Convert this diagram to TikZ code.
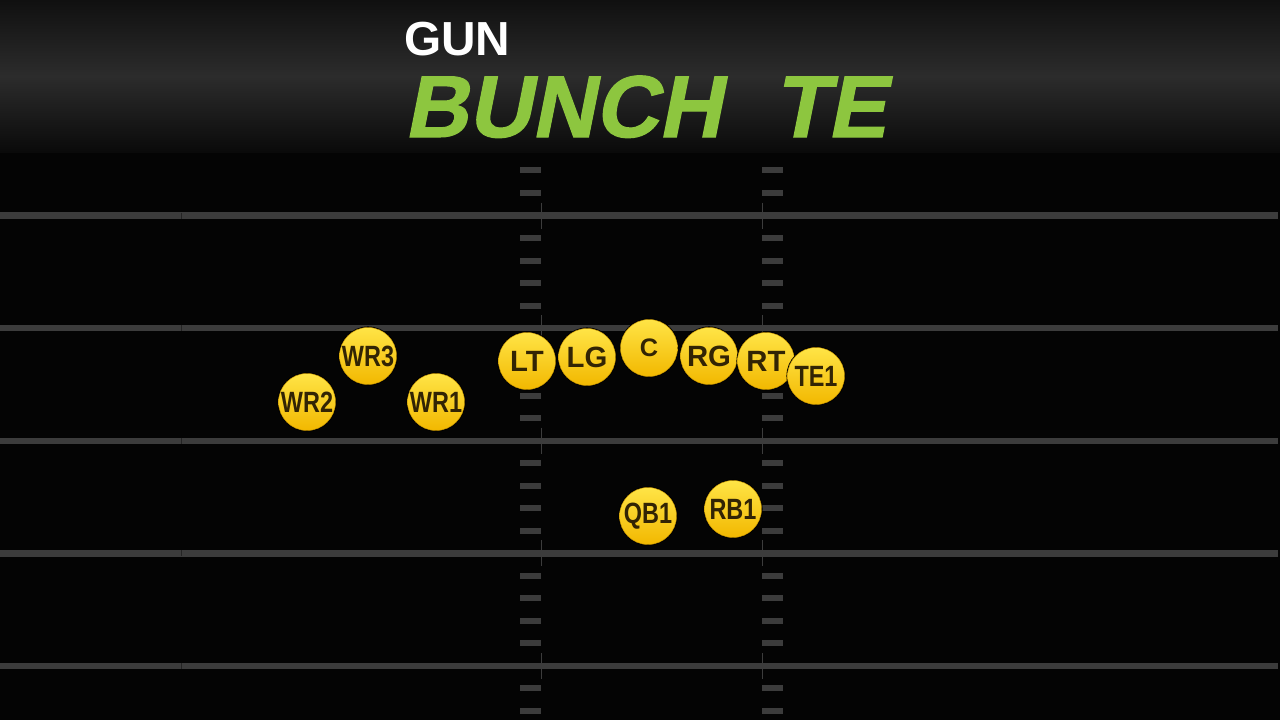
\documentclass[tikz,border=0pt]{standalone}
\usepackage{fontspec}
\usepackage{tikz}
\setmainfont{Liberation Sans}
\newfontfamily\titlefont{Liberation Sans}[FakeSlant=0.2, FakeBold=1.2]
\newfontfamily\narrowfont{Liberation Sans}[FakeStretch=0.8]
\definecolor{fieldblack}{RGB}{4, 4, 4}
\definecolor{yardgray}{RGB}{60, 60, 60}
\definecolor{headtop}{RGB}{16, 16, 16}
\definecolor{headmid}{RGB}{44, 44, 44}
\definecolor{headbot}{RGB}{10, 10, 10}
\definecolor{titlegreen}{RGB}{141, 198, 63}
\definecolor{ballhigh}{RGB}{255, 228, 70}
\definecolor{balllow}{RGB}{242, 184, 0}
\definecolor{balledge}{RGB}{196, 146, 0}
\definecolor{labelbrown}{RGB}{50, 36, 4}

\begin{document}
\begin{tikzpicture}[x=0.05cm, y=-0.05cm,
  player/.style={circle, minimum size=2.85cm, inner sep=0pt,
    top color=ballhigh, bottom color=balllow, draw=balledge, line width=0.6pt,
    preaction={draw=black, line width=3pt},
    text=labelbrown, font=\bfseries\fontsize{41.7pt}{42pt}\selectfont},
  narrow/.style={font=\narrowfont\bfseries\fontsize{41.7pt}{42pt}\selectfont},
  yardline/.style={yardgray, line width=0.32cm},
  hashmark/.style={fill=yardgray},
  title/.style={anchor=base west, inner sep=0pt}
]
\useasboundingbox (0,0) rectangle (1280,720);
\fill[fieldblack] (0,0) rectangle (1280,720);

% field
\foreach \k in {-1,...,4} {
  \foreach \j in {1,...,4} {
    \fill[hashmark] (520,215.5+112.6*\k+22.5*\j-3) rectangle (541,215.5+112.6*\k+22.5*\j+3);
    \fill[hashmark] (762,215.5+112.6*\k+22.5*\j-3) rectangle (783,215.5+112.6*\k+22.5*\j+3);
  }
}
\foreach \k in {0,...,4} {
  \draw[yardline] (0,215.5+112.6*\k) -- (1278,215.5+112.6*\k);
  \draw[yardgray, line width=1.4pt] (541,215.5+112.6*\k-13) -- (541,215.5+112.6*\k+13);
  \draw[yardgray, line width=1.4pt] (762,215.5+112.6*\k-13) -- (762,215.5+112.6*\k+13);
  \draw[black!40!yardgray, line width=0.5pt] (181,215.5+112.6*\k-3) -- (181,215.5+112.6*\k+3);
}

% header
\shade[top color=headtop, bottom color=headbot, middle color=headmid] (0,0) rectangle (1280,152);
\node[title, text=white, font=\bfseries\fontsize{68pt}{68pt}\selectfont] (formation) at (404,55) {GUN};
\node[title, text=titlegreen, font=\titlefont\bfseries\fontsize{125pt}{125pt}\selectfont] (playname) at (404,137) {BUNCH\hspace{74pt}TE};

% players
\node[player, narrow] (wrtwo) at (307,402) {WR2};
\node[player, narrow] (wrthree) at (368,356) {WR3};
\node[player, narrow] (wrone) at (436,402) {WR1};
\node[player] (lt) at (527,361) {LT};
\node[player] (lg) at (587,357) {LG};
\node[player, font=\bfseries\fontsize{36pt}{36pt}\selectfont] (c) at (649,348) {C};
\node[player] (rg) at (709,356) {RG};
\node[player] (rt) at (766,361) {RT};
\node[player, narrow] (teone) at (816,376) {TE1};
\node[player, narrow] (qbone) at (648,516) {QB1};
\node[player, narrow] (rbone) at (733,509) {RB1};
\end{tikzpicture}
\end{document}
